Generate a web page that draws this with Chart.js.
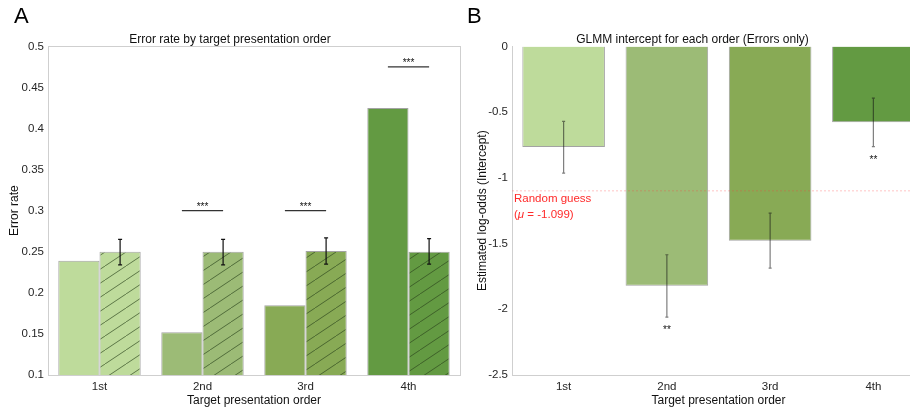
<!DOCTYPE html>
<html>
<head>
<meta charset="utf-8">
<script src="https://cdn.jsdelivr.net/npm/chart.js@4.4.1/dist/chart.umd.min.js"></script>
<style>
    html, body { margin: 0; padding: 0; background: #fff; }
    body { width: 910px; height: 413px; overflow: hidden; position: relative; }
    #chartA { position: absolute; left: 0; top: 0; }
    #chartB { position: absolute; left: 460px; top: 0; }
</style>
</head>
<body>
<canvas id="chartA" width="462" height="413"></canvas>
<canvas id="chartB" width="470" height="413"></canvas>
<script>
// Data
const orders = ['1st', '2nd', '3rd', '4th'];
const orderColors = ['#bedb9b', '#9cbb76', '#88aa55', '#639a42'];

// Panel A - error rate
const errorRate = [0.239, 0.152, 0.185, 0.425];
const chanceRate = [0.25, 0.25, 0.251, 0.25];
const chanceLow = [0.234, 0.234, 0.235, 0.235];
const chanceHigh = [0.265, 0.265, 0.267, 0.266];
const sigLineA = [null, 0.3, 0.3, 0.475];
const sigTextA = ['', '***', '***', '***'];
const yTicksA = [0.1, 0.15, 0.2, 0.25, 0.3, 0.35, 0.4, 0.45, 0.5];

// Panel B - GLMM intercepts
const intercept = [-0.766, -1.821, -1.479, -0.578];
const ciLow = [-0.964, -2.06, -1.687, -0.763];
const ciHigh = [-0.571, -1.585, -1.268, -0.393];
const sigTextB = ['', '**', '', '**'];
const randomGuess = -1.099;
const yTicksB = [0, -0.5, -1, -1.5, -2, -2.5];

Chart.defaults.font.family = '"Liberation Sans", Arial, sans-serif';
Chart.defaults.font.size = 11.5;
Chart.defaults.color = '#262626';
Chart.defaults.animation = false;

// Diagonal hatch pattern on top of a fill colour
function hatch(color) {
    const c = document.createElement('canvas');
    c.width = 21; c.height = 14;
    const g = c.getContext('2d');
    g.fillStyle = color;
    g.fillRect(0, 0, 21, 14);
    g.strokeStyle = 'rgba(45,70,30,0.75)';
    g.lineWidth = 0.9;
    g.beginPath();
    g.moveTo(-21, 28); g.lineTo(42, -14);
    g.stroke();
    return g.createPattern(c, 'repeat');
}

function fixedTicks(list) {
    return function(scale) {
        scale.ticks = list.map(v => ({ value: v }));
    };
}

// Panel letter, drawn in the top left of each canvas
const panelLetter = {
    id: 'panelLetter',
    afterDraw(chart, args, opts) {
        const ctx = chart.ctx;
        ctx.save();
        ctx.fillStyle = '#000';
        ctx.font = '22px "Liberation Sans", Arial, sans-serif';
        ctx.textBaseline = 'alphabetic';
        ctx.fillText(opts.text, opts.x, 23);
        ctx.restore();
    }
};

// Panel A extras: box, error bars, significance lines
const extrasA = {
    id: 'extrasA',
    beforeDatasetsDraw(chart) {
        const a = chart.chartArea, ctx = chart.ctx;
        ctx.save();
        ctx.strokeStyle = '#cfcfcf';
        ctx.lineWidth = 1;
        ctx.strokeRect(Math.round(a.left) + 0.5, Math.round(a.top) + 0.5,
            Math.round(a.right - a.left), Math.round(a.bottom - a.top));
        ctx.restore();
    },
    afterDatasetsDraw(chart) {
        const ctx = chart.ctx, y = chart.scales.y;
        const solid = chart.getDatasetMeta(0).data;
        const hatched = chart.getDatasetMeta(1).data;
        ctx.save();
        ctx.strokeStyle = '#111';
        ctx.lineWidth = 1.2;
        hatched.forEach((bar, i) => {
            const x = bar.x, y1 = y.getPixelForValue(chanceLow[i]), y2 = y.getPixelForValue(chanceHigh[i]);
            ctx.beginPath();
            ctx.moveTo(x, y1); ctx.lineTo(x, y2);
            ctx.moveTo(x - 2, y1); ctx.lineTo(x + 2, y1);
            ctx.moveTo(x - 2, y2); ctx.lineTo(x + 2, y2);
            ctx.stroke();
        });
        ctx.strokeStyle = '#333';
        ctx.lineWidth = 1.2;
        ctx.fillStyle = '#111';
        ctx.font = '10px "Liberation Sans", Arial, sans-serif';
        ctx.textAlign = 'center';
        ctx.textBaseline = 'alphabetic';
        sigLineA.forEach((v, i) => {
            if (v === null) return;
            const py = y.getPixelForValue(v);
            ctx.beginPath();
            ctx.moveTo(solid[i].x, py); ctx.lineTo(hatched[i].x, py);
            ctx.stroke();
            ctx.fillText(sigTextA[i], (solid[i].x + hatched[i].x) / 2, py - 1);
        });
        ctx.restore();
    }
};

// Panel B extras: chance line, confidence intervals, stars
const extrasB = {
    id: 'extrasB',
    afterDatasetsDraw(chart) {
        const ctx = chart.ctx, y = chart.scales.y, a = chart.chartArea;
        const bars = chart.getDatasetMeta(0).data;
        ctx.save();
        const gy = y.getPixelForValue(randomGuess);
        ctx.strokeStyle = 'rgba(255,60,60,0.3)';
        ctx.lineWidth = 1;
        ctx.setLineDash([2, 2]);
        ctx.beginPath();
        ctx.moveTo(a.left, gy); ctx.lineTo(a.right, gy);
        ctx.stroke();
        ctx.setLineDash([]);

        ctx.fillStyle = '#ff2a2a';
        ctx.textBaseline = 'middle';
        ctx.textAlign = 'left';
        ctx.font = '11.5px "Liberation Sans", Arial, sans-serif';
        ctx.fillText('Random guess', a.left + 2, gy + 8);
        let tx = a.left + 2;
        ctx.fillText('(', tx, gy + 24);
        tx += ctx.measureText('(').width;
        ctx.font = 'italic 11.5px "Liberation Sans", Arial, sans-serif';
        ctx.fillText('\u03bc', tx, gy + 24);
        tx += ctx.measureText('\u03bc').width;
        ctx.font = '11.5px "Liberation Sans", Arial, sans-serif';
        ctx.fillText(' = ' + randomGuess.toFixed(3) + ')', tx, gy + 24);

        ctx.strokeStyle = 'rgba(20,20,20,0.55)';
        ctx.lineWidth = 1.2;
        ctx.fillStyle = '#111';
        ctx.font = '10px "Liberation Sans", Arial, sans-serif';
        ctx.textAlign = 'center';
        ctx.textBaseline = 'alphabetic';
        bars.forEach((bar, i) => {
            const x = bar.x, y1 = y.getPixelForValue(ciLow[i]), y2 = y.getPixelForValue(ciHigh[i]);
            ctx.beginPath();
            ctx.moveTo(x, y1); ctx.lineTo(x, y2);
            ctx.moveTo(x - 1.5, y1); ctx.lineTo(x + 1.5, y1);
            ctx.moveTo(x - 1.5, y2); ctx.lineTo(x + 1.5, y2);
            ctx.stroke();
            if (sigTextB[i]) ctx.fillText(sigTextB[i], x, y1 + 16);
        });
        ctx.restore();
    }
};

function xAxis() {
    return {
        grid: { display: false, drawTicks: false },
        border: { display: false },
        ticks: { padding: 5, color: '#262626' },
        title: { display: true, text: 'Target presentation order', color: '#111',
                 font: { size: 12 }, padding: { top: 0, bottom: 5 } },
        afterFit(scale) { scale.height = 38; }
    };
}

// Panel A
new Chart(document.getElementById('chartA'), {
    type: 'bar',
    data: {
        labels: orders,
        datasets: [{
            label: 'Error rate',
            data: errorRate,
            backgroundColor: orderColors,
            borderColor: '#a3a3a3',
            borderWidth: 1,
            categoryPercentage: 0.8,
            barPercentage: 1.0
        }, {
            label: 'Chance',
            data: chanceRate,
            backgroundColor: orderColors.map(hatch),
            borderColor: '#a3a3a3',
            borderWidth: 1,
            categoryPercentage: 0.8,
            barPercentage: 1.0
        }]
    },
    options: {
        responsive: false,
        layout: { padding: { left: 0, right: 2, top: 0, bottom: 0 } },
        plugins: {
            legend: { display: false },
            tooltip: { enabled: false },
            title: { display: true, text: 'Error rate by target presentation order', color: '#111',
                     font: { size: 12, weight: 'normal' }, padding: { top: 32, bottom: 0 } },
            panelLetter: { text: 'A', x: 14 }
        },
        scales: {
            x: xAxis(),
            y: {
                min: 0.1, max: 0.5,
                grid: { display: false, drawTicks: false },
                border: { display: false },
                afterBuildTicks: fixedTicks(yTicksA),
                ticks: { padding: 4, callback: v => String(v) },
                title: { display: true, text: 'Error rate', color: '#111', font: { size: 12 },
                         padding: { top: 7, bottom: 0 } },
                afterFit(scale) { scale.width = 48; }
            }
        }
    },
    plugins: [panelLetter, extrasA]
});

// Panel B
new Chart(document.getElementById('chartB'), {
    type: 'bar',
    data: {
        labels: orders,
        datasets: [{
            label: 'Intercept',
            data: intercept,
            backgroundColor: orderColors,
            borderColor: '#a3a3a3',
            borderWidth: 1,
            categoryPercentage: 0.8,
            barPercentage: 1.0
        }]
    },
    options: {
        responsive: false,
        layout: { padding: { left: 0, right: 5, top: 0, bottom: 0 } },
        plugins: {
            legend: { display: false },
            tooltip: { enabled: false },
            title: { display: true, text: 'GLMM intercept for each order (Errors only)', color: '#111',
                     font: { size: 12, weight: 'normal' }, padding: { top: 32, bottom: 0 } },
            panelLetter: { text: 'B', x: 7 }
        },
        scales: {
            x: Object.assign(xAxis(), { border: { display: true, color: '#cfcfcf' } }),
            y: {
                min: -2.5, max: 0,
                grid: { display: false, drawTicks: false },
                border: { display: true, color: '#cfcfcf' },
                afterBuildTicks: fixedTicks(yTicksB),
                ticks: { padding: 4, callback: v => String(v) },
                title: { display: true, text: 'Estimated log-odds (Intercept)', color: '#111', font: { size: 12 },
                         padding: { top: 15, bottom: 0 } },
                afterFit(scale) { scale.width = 52; }
            }
        }
    },
    plugins: [panelLetter, extrasB]
});
</script>
</body>
</html>
